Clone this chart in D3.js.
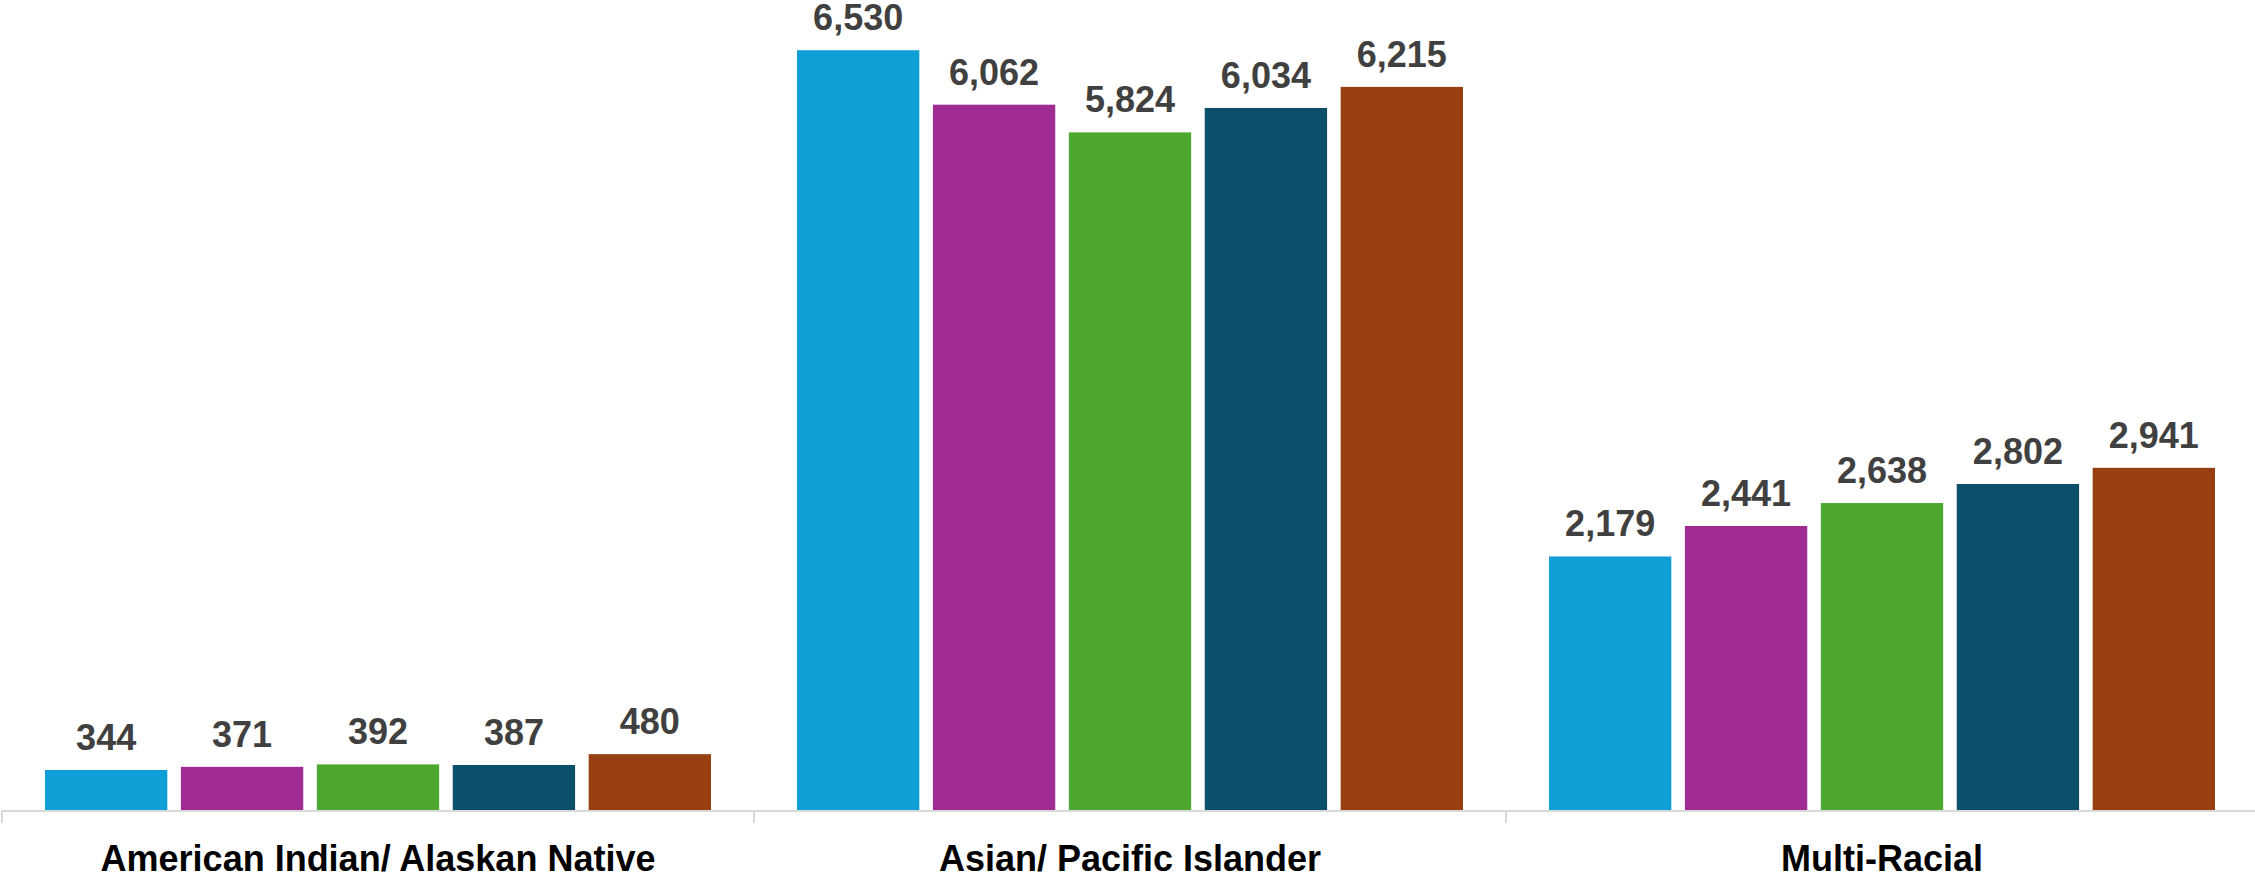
<!DOCTYPE html>
<html>
<head>
<meta charset="utf-8">
<script src="https://cdn.jsdelivr.net/npm/d3@7"></script>
<style>
  html, body { margin: 0; padding: 0; background: #ffffff; }
  svg { display: block; }
</style>
</head>
<body>
<svg id="chart" width="2255" height="876"></svg>
<script>
const categories = ["American Indian/ Alaskan Native", "Asian/ Pacific Islander", "Multi-Racial"];
const seriesNames = ["Series 1", "Series 2", "Series 3", "Series 4", "Series 5"];
const series1 = [344, 6530, 2179];
const series2 = [371, 6062, 2441];
const series3 = [392, 5824, 2638];
const series4 = [387, 6034, 2802];
const series5 = [480, 6215, 2941];
const seriesColors = ["#0F9ED5", "#A02B93", "#4EA72E", "#0B4F6B", "#973F11"];
const yMax = 7000;

const allSeries = [series1, series2, series3, series4, series5];

const svg = d3.select("#chart");
const W = 2255, H = 876;
const baseline = 810;

const x0 = d3.scaleBand().domain(categories).range([2, 2258]).paddingInner(0).paddingOuter(0);
const x1 = d3.scaleBand().domain(seriesNames).range([43, 709]).paddingInner(0.1).paddingOuter(0);
const y = d3.scaleLinear().domain([0, yMax]).range([baseline, baseline - yMax * 0.11635]);

const fmt = d3.format(",");

const groups = svg.append("g").selectAll("g")
  .data(categories)
  .join("g")
  .attr("transform", d => `translate(${x0(d)},0)`);

groups.each(function(cat, ci) {
  const g = d3.select(this);
  const rows = seriesNames.map((s, si) => ({ s, si, v: allSeries[si][ci] }));
  g.selectAll("rect")
    .data(rows)
    .join("rect")
    .attr("x", d => x1(d.s))
    .attr("y", d => y(d.v))
    .attr("width", x1.bandwidth())
    .attr("height", d => baseline - y(d.v))
    .attr("fill", d => seriesColors[d.si]);
  g.selectAll("text")
    .data(rows)
    .join("text")
    .attr("x", d => x1(d.s) + x1.bandwidth() / 2)
    .attr("y", d => y(d.v) - 20)
    .attr("text-anchor", "middle")
    .attr("font-family", "'Liberation Sans', Arial, sans-serif")
    .attr("font-weight", "bold")
    .attr("font-size", 36)
    .attr("fill", "#404040")
    .text(d => fmt(d.v));
});

// Axis
const axisG = svg.append("g").attr("transform", `translate(0,${baseline + 1})`);
axisG.append("line")
  .attr("x1", 1).attr("x2", W)
  .attr("y1", 0).attr("y2", 0)
  .attr("stroke", "#D9D9D9").attr("stroke-width", 2);
axisG.selectAll("line.tick")
  .data(categories)
  .join("line")
  .attr("class", "tick")
  .attr("x1", d => x0(d)).attr("x2", d => x0(d))
  .attr("y1", 0).attr("y2", 12)
  .attr("stroke", "#D9D9D9").attr("stroke-width", 2);

const labelAxis = d3.axisBottom(x0).tickSize(0).tickPadding(0);
const la = svg.append("g").attr("transform", `translate(0,871)`).call(labelAxis);
la.select(".domain").remove();
la.selectAll("text")
  .attr("dy", 0)
  .attr("y", 0)
  .attr("font-family", "'Liberation Sans', Arial, sans-serif")
  .attr("font-weight", "bold")
  .attr("font-size", 36)
  .attr("fill", "#000000");
</script>
</body>
</html>
